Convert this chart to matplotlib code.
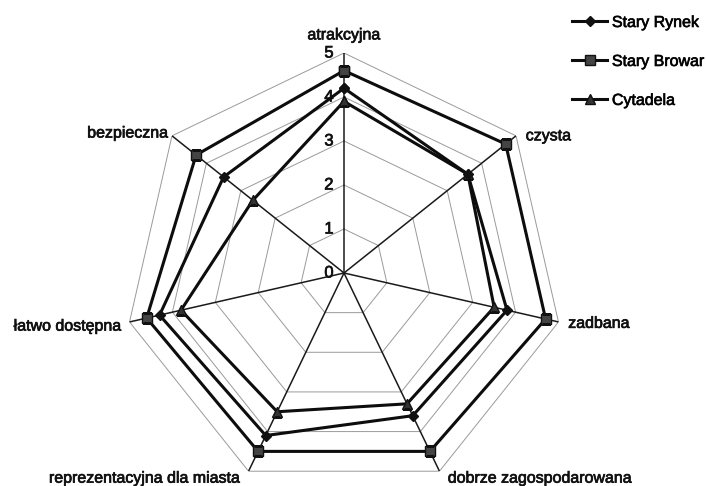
import matplotlib.pyplot as plt
import matplotlib.patheffects as pe
import numpy as np

plt.rcParams['font.family'] = ['Liberation Sans', 'DejaVu Sans']

categories = ['atrakcyjna', 'czysta', 'zadbana', 'dobrze zagospodarowana',
              'reprezentacyjna dla miasta', 'łatwo dostępna', 'bezpieczna']
stary_rynek = [4.2, 3.6, 3.8, 3.6, 4.1, 4.3, 3.5]
stary_browar = [4.6, 4.7, 4.7, 4.5, 4.5, 4.6, 4.3]
cytadela = [3.9, 3.6, 3.5, 3.3, 3.5, 3.8, 2.65]
levels = [0, 1, 2, 3, 4, 5]

n = len(categories)
theta = np.arange(n) * 2 * np.pi / n
closed = np.append(theta, theta[0])
bold_fx = [pe.withStroke(linewidth=0.5, foreground='#111111')]

fig = plt.figure(figsize=(7.06, 4.86), dpi=100)
ax = fig.add_axes([124/706, -7/486, 440/706, 440/486], projection='polar')
ax.set_theta_zero_location('N')
ax.set_theta_direction(-1)
ax.set_ylim(0, 5)
ax.grid(False)
ax.spines['polar'].set_visible(False)
ax.set_xticks([])
ax.set_yticks([])
ax.patch.set_alpha(0)

# polygon grid
for lv in levels[1:]:
    ax.plot(closed, [lv] * (n + 1), color='#9a9a9a', lw=0.7, zorder=1)
# spokes
for t in theta:
    ax.plot([t, t], [0, 5], color='#1a1a1a', lw=1.1, zorder=2)

def close(v):
    return list(v) + [v[0]]

ax.plot(closed, close(stary_rynek), color='#0d0d0d', lw=2.2, marker='D', ms=5,
        mfc='#111111', mec='#111111', label='Stary Rynek', zorder=4)
ax.plot(closed, close(stary_browar), color='#0d0d0d', lw=2.2, marker='s', ms=7,
        mfc='#444444', mec='#111111', label='Stary Browar', zorder=3)
ax.plot(closed, close(cytadela), color='#0d0d0d', lw=2.2, marker='^', ms=7,
        mfc='#333333', mec='#111111', label='Cytadela', zorder=3)

# radial tick labels
for lv in levels:
    ax.annotate(str(lv), xy=(0, lv), xytext=(-7.5, 0), textcoords='offset points',
                ha='right', va='center', fontsize=12, color='#111111',
                path_effects=bold_fx)

# category labels
offsets = [(0, 13, 'center'), (7, 0, 'left'), (7, -1, 'left'), (6, -5, 'left'),
           (-6, -5, 'right'), (-6, -3, 'right'), (-3, 2, 'right')]
for t, lab, (dx, dy, ha) in zip(theta, categories, offsets):
    ax.annotate(lab, xy=(t, 5), xytext=(dx, dy), textcoords='offset points',
                ha=ha, va='center', fontsize=11.5, color='#111111',
                path_effects=bold_fx)

leg = fig.legend(loc='upper left', bbox_to_anchor=(572/706, 1 - 15/486), frameon=False,
                 fontsize=11.5, handlelength=2.2, handletextpad=0.3, labelspacing=1.5,
                 borderpad=0, borderaxespad=0)
for txt in leg.get_texts():
    txt.set_path_effects(bold_fx)

fig.savefig('out.png', dpi=100)
